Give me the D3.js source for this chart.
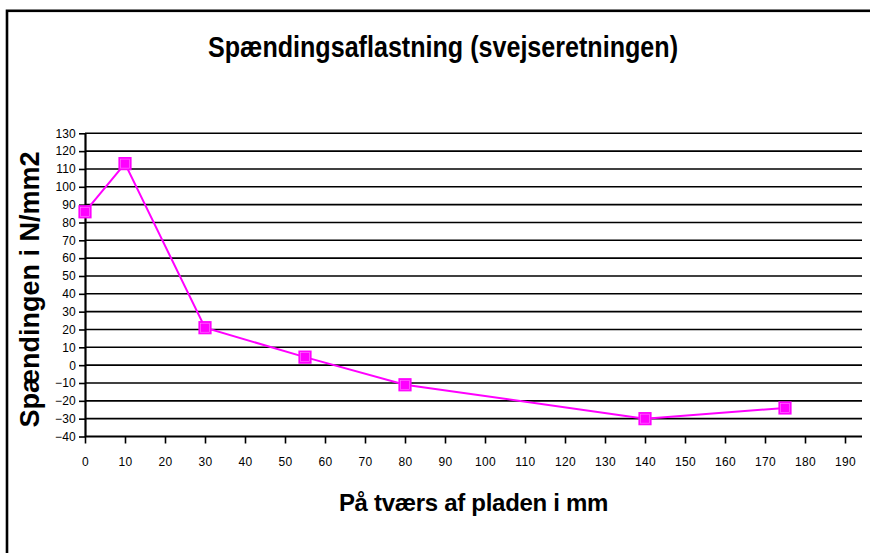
<!DOCTYPE html>
<html>
<head>
<meta charset="utf-8">
<script src="https://cdn.jsdelivr.net/npm/d3@7"></script>
<style>
  html, body { margin: 0; padding: 0; background: #fff; }
  svg { display: block; }
</style>
</head>
<body>
<svg id="chart" width="870" height="553"></svg>
<script>
// Measurement positions across the plate (mm) and the stress in the weld direction (N/mm2)
const positions = [0, 10, 30, 55, 80, 140, 175];
const stresses = [86, 113, 21, 4.5, -11, -30, -24];

const xTicks = d3.range(0, 200, 10);      // 0 … 190
const yTicks = d3.range(-40, 140, 10);    // -40 … 130

const titleText = "Spændingsaflastning (svejseretningen)";
const xTitle = "På tværs af pladen i mm";
const yTitle = "Spændingen i N/mm2";

const svg = d3.select("#chart");
const font = "'Liberation Sans', Arial, Helvetica, sans-serif";

// Chart frame (runs off the right and bottom edges)
svg.append("rect")
  .attr("x", 7).attr("y", 10.8)
  .attr("width", 900).attr("height", 600)
  .attr("fill", "#fff")
  .attr("stroke", "#000").attr("stroke-width", 2.6);

// Scales
const x = d3.scaleLinear().domain([0, 194.25]).range([85, 862]);
const y = d3.scaleLinear().domain([-40, 130]).range([436.5, 133.3]);

// Horizontal gridlines
svg.append("g")
  .selectAll("line")
  .data(yTicks.filter(v => v > -40))
  .join("line")
  .attr("x1", x(0)).attr("x2", x(194.25))
  .attr("y1", d => y(d)).attr("y2", d => y(d))
  .attr("stroke", "#000").attr("stroke-width", 1.6);

// Y axis
const yAxis = svg.append("g")
  .attr("transform", `translate(${x(0)},0)`)
  .call(d3.axisLeft(y).tickValues(yTicks).tickSize(6).tickSizeOuter(0).tickPadding(3));
yAxis.select(".domain").attr("stroke", "#000").attr("stroke-width", 2.2);
yAxis.selectAll(".tick line").attr("stroke", "#000").attr("stroke-width", 1.6);
yAxis.selectAll(".tick text")
  .attr("font-family", font).attr("font-size", 12)
  .attr("letter-spacing", 0.2)
  .attr("fill", "#000");

// X axis
const xAxis = svg.append("g")
  .attr("transform", `translate(0,${y(-40)})`)
  .call(d3.axisBottom(x).tickValues(xTicks).tickSize(7).tickSizeOuter(0).tickPadding(14));
xAxis.select(".domain").attr("stroke", "#000").attr("stroke-width", 2.2)
  .attr("d", `M${x(0)},0H${x(194.25)}`);
xAxis.selectAll(".tick line").attr("stroke", "#000").attr("stroke-width", 1.6);
xAxis.selectAll(".tick text")
  .attr("font-family", font).attr("font-size", 12)
  .attr("letter-spacing", 0.4)
  .attr("fill", "#000");

// Series line
const pts = positions.map((p, i) => [p, stresses[i]]);
svg.append("path")
  .datum(pts)
  .attr("fill", "none")
  .attr("stroke", "#ff00ff")
  .attr("stroke-width", 2)
  .attr("d", d3.line().x(d => x(d[0])).y(d => y(d[1])));

// Square markers
const ms = 12;
const markers = svg.append("g").selectAll("g").data(pts).join("g")
  .attr("transform", d => `translate(${x(d[0])},${y(d[1])})`);
markers.append("rect")
  .attr("x", -ms / 2).attr("y", -ms / 2)
  .attr("width", ms).attr("height", ms)
  .attr("fill", "#ff00ff")
  .attr("stroke", "#ff00ff").attr("stroke-width", 1.2);
markers.append("rect")
  .attr("x", -ms / 2 + 1.5).attr("y", -ms / 2 + 1.5)
  .attr("width", ms - 3).attr("height", ms - 3)
  .attr("fill", "none")
  .attr("stroke", "#ff80ff").attr("stroke-width", 0.6);

// Titles
svg.append("text")
  .attr("x", 443).attr("y", 57)
  .attr("text-anchor", "middle")
  .attr("font-family", font).attr("font-weight", "bold")
  .attr("font-size", 30)
  .attr("textLength", 470).attr("lengthAdjust", "spacingAndGlyphs")
  .text(titleText);

svg.append("text")
  .attr("x", 473.5).attr("y", 511)
  .attr("text-anchor", "middle")
  .attr("font-family", font).attr("font-weight", "bold")
  .attr("font-size", 24)
  .attr("letter-spacing", -0.3)
  .text(xTitle);

svg.append("text")
  .attr("transform", "translate(39,289.5) rotate(-90)")
  .attr("text-anchor", "middle")
  .attr("font-family", font).attr("font-weight", "bold")
  .attr("font-size", 27)
  .text(yTitle);
</script>
</body>
</html>
